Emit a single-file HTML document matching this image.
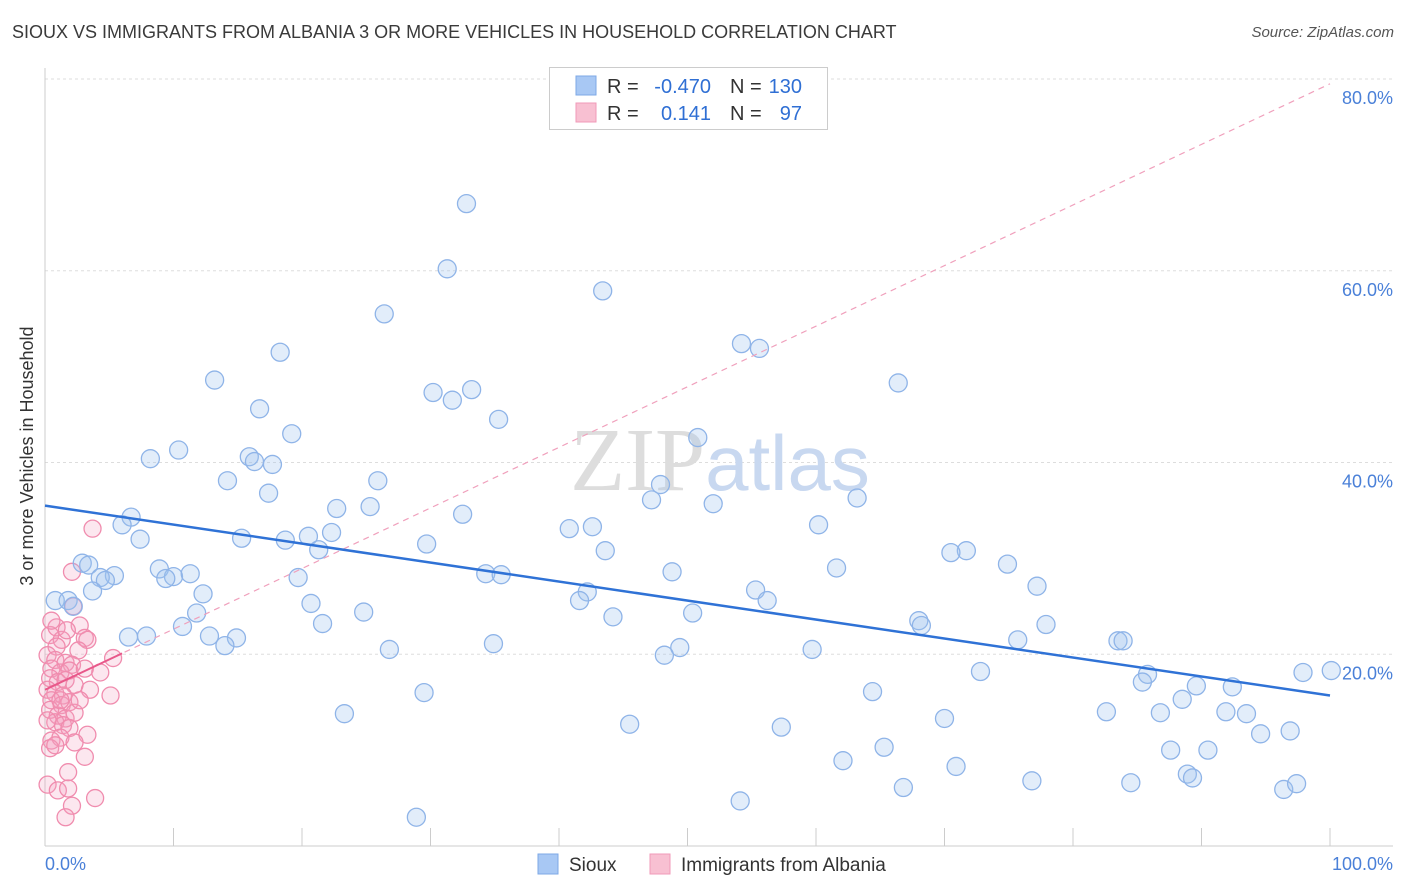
<!DOCTYPE html>
<html><head><meta charset="utf-8">
<style>
body{margin:0;background:#fff;font-family:"Liberation Sans",sans-serif;}
#wrap{position:relative;width:1406px;height:892px;overflow:hidden;}
.title{position:absolute;left:12px;top:22px;font-size:18px;color:#3a3a3a;}
.source{position:absolute;right:12px;top:24px;font-size:15px;color:#555;font-style:italic;}
</style></head>
<body>
<div id="wrap">
<div class="title">SIOUX VS IMMIGRANTS FROM ALBANIA 3 OR MORE VEHICLES IN HOUSEHOLD CORRELATION CHART</div>
<div class="source">Source: ZipAtlas.com</div>
<svg id="chart" width="1406" height="892" style="position:absolute;left:0;top:0"></svg>
</div>
<script>
const yTicks=[20,40,60,80];
const yTickLabels=["20.0%","40.0%","60.0%","80.0%"];
const xTickLabels=["0.0%","100.0%"];
const siouxX=[32.8,31.3,43.4,26.4,18.3,54.2,55.6,66.4,13.2,30.2,33.2,31.7,16.7,35.3,19.2,50.8,10.4,8.2,15.9,16.3,17.7,14.2,25.9,17.4,47.9,47.2,63.2,52.0,22.7,25.3,32.5,6.7,6.0,40.8,42.6,60.2,22.3,15.3,18.7,20.5,21.3,7.4,29.7,43.6,71.7,70.5,2.9,3.4,74.9,61.6,8.9,10.0,11.3,5.4,4.3,4.7,9.4,19.7,34.3,35.5,48.8,77.2,3.7,0.8,1.8,2.2,12.3,55.3,42.2,41.6,56.2,20.7,11.8,24.8,44.2,50.4,68.0,68.2,10.7,21.6,77.9,6.5,7.9,12.8,14.9,14.0,34.9,75.7,83.5,83.9,49.4,48.2,59.7,26.8,100.1,97.9,72.8,85.8,85.4,89.6,92.4,88.5,64.4,29.5,82.6,86.8,91.9,93.5,70.0,23.3,45.5,57.3,94.6,96.9,65.3,87.6,90.5,62.1,70.9,88.9,89.3,76.8,84.5,66.8,96.4,97.4,54.1,28.9];
const siouxY=[67.0,60.2,57.9,55.5,51.5,52.4,51.9,48.3,48.6,47.3,47.6,46.5,45.6,44.5,43.0,42.6,41.3,40.4,40.6,40.1,39.8,38.1,38.1,36.8,37.7,36.1,36.3,35.7,35.2,35.4,34.6,34.3,33.5,33.1,33.3,33.5,32.7,32.1,31.9,32.3,30.9,32.0,31.5,30.8,30.8,30.6,29.5,29.3,29.4,29.0,28.9,28.1,28.4,28.2,28.0,27.7,27.9,28.0,28.4,28.3,28.6,27.1,26.6,25.6,25.6,25.0,26.3,26.7,26.5,25.6,25.6,25.3,24.3,24.4,23.9,24.3,23.5,23.0,22.9,23.2,23.1,21.8,21.9,21.9,21.7,20.9,21.1,21.5,21.4,21.4,20.7,19.9,20.5,20.5,18.3,18.1,18.2,17.9,17.1,16.7,16.6,15.3,16.1,16.0,14.0,13.9,14.0,13.8,13.3,13.8,12.7,12.4,11.7,12.0,10.3,10.0,10.0,8.9,8.3,7.5,7.1,6.8,6.6,6.1,5.9,6.5,4.7,3.0];
const albX=[3.7,2.1,2.2,2.7,0.4,1.3,3.1,3.3,0.9,2.6,0.2,0.8,1.6,2.1,0.5,1.2,1.9,3.1,5.3,4.3,0.4,1.0,1.6,2.3,0.2,0.8,1.4,3.5,5.1,0.5,1.3,1.9,0.4,1.0,1.6,2.3,0.8,1.4,1.9,3.3,0.5,1.2,2.3,0.4,0.8,1.8,0.2,1.0,1.8,3.9,2.1,1.6,0.9,1.7,0.5,1.2,2.7,0.2,3.1];
const albY=[33.1,28.6,25.0,23.0,22.0,21.5,21.7,21.5,20.8,20.4,19.9,19.4,19.1,18.9,18.5,18.1,18.3,18.5,19.6,18.1,17.5,17.1,17.3,16.8,16.3,15.9,15.7,16.3,15.7,15.2,14.7,15.0,14.2,13.6,13.3,13.9,12.9,12.6,12.3,11.6,11.0,11.3,10.8,10.2,10.5,7.7,6.4,5.8,6.0,5.0,4.2,3.0,22.8,22.5,23.5,15.2,15.2,13.1,9.3];
const siouxTrend=[35.5,15.7];   // y at x=0, x=100
const albTrend=[16.3,79.5];
const albSolidEnd=6;

const X0=45,X1=1330,Y0=846,Y80=79;
const sx=v=>X0+(X1-X0)*v/100;
const sy=v=>Y0-(Y0-Y80)*v/80;
const svg=document.getElementById('chart');
const NS='http://www.w3.org/2000/svg';
function mk(t,a){const e=document.createElementNS(NS,t);for(const k in a)e.setAttribute(k,a[k]);svg.appendChild(e);return e;}

// gridlines + labels
yTicks.forEach((t,i)=>{
 const g=mk('line',{x1:X0,x2:1393,y1:sy(t),y2:sy(t),stroke:'#ddd','stroke-dasharray':'3,3'});
 
 
 const l=mk('text',{x:1393,y:sy(t)+25,'text-anchor':'end','font-size':18,fill:'#4a80d8'});
 l.textContent=yTickLabels[i];
 
 
});
// axes
let ax=mk('line',{x1:X0,x2:1393,y1:Y0,y2:Y0,stroke:'#ccc'});


let ay=mk('line',{x1:X0,x2:X0,y1:68,y2:Y0,stroke:'#ccc'});


for(let i=0;i<=10;i++){
 const t=mk('line',{x1:sx(i*10),x2:sx(i*10),y1:828,y2:Y0,stroke:'#ccc'});
 
 
}
[[0,'start',45],[100,'end',1393]].forEach((p,i)=>{
 const l=mk('text',{x:p[2],y:870,'text-anchor':p[1],'font-size':18,fill:'#4a80d8'});
 l.textContent=xTickLabels[i];
 
 
});
// y title
let yt=mk('text',{x:33,y:456,'text-anchor':'middle','font-size':18,fill:'#333',transform:'rotate(-90 33 456)'});
yt.textContent='3 or more Vehicles in Household';


// watermark
let wm=mk('text',{x:720,y:490,'text-anchor':'middle','font-size':90,fill:'#ddd','font-family':'Liberation Serif, serif'});
wm.innerHTML='ZIP<tspan fill="#c8d8f0" font-family="Liberation Sans, sans-serif" font-size="78">atlas</tspan>';



// points
albX.forEach((x,i)=>{
 const c=mk('circle',{cx:sx(x),cy:sy(albY[i]),r:8.5,fill:'rgba(244,160,190,0.25)',stroke:'#f08cae','stroke-width':1.3});
 
 
});
siouxX.forEach((x,i)=>{
 const c=mk('circle',{cx:sx(x),cy:sy(siouxY[i]),r:9,fill:'rgba(160,195,240,0.3)',stroke:'#8fb4e8','stroke-width':1.3});
 
 
});
// trend lines
let pd=mk('line',{x1:sx(0),y1:sy(albTrend[0]),x2:sx(100),y2:sy(albTrend[1]),stroke:'#f0a0bc','stroke-width':1.2,'stroke-dasharray':'6,5'});


let ps=mk('line',{x1:sx(0),y1:sy(albTrend[0]),x2:sx(albSolidEnd),y2:sy(albTrend[0]+(albTrend[1]-albTrend[0])*albSolidEnd/100),stroke:'#e8588a','stroke-width':2});


let bl=mk('line',{x1:sx(0),y1:sy(siouxTrend[0]),x2:sx(100),y2:sy(siouxTrend[1]),stroke:'#2f72d6','stroke-width':2.5});



// top legend
let lb=mk('rect',{x:549.5,y:67.5,width:278,height:62,fill:'#fff',stroke:'#ccc'});


[[76,'#a8c8f4','#7ea8e6','-0.470','130'],[103,'#f8c0d2','#f09ab8','0.141','97']].forEach(r=>{
 const s=mk('rect',{x:576,y:r[0],width:20,height:19,fill:r[1],stroke:r[2]});
 
 
 const t=mk('text',{x:607,y:r[0]+17,'font-size':20,fill:'#333'});
 t.innerHTML='R = <tspan x="711" text-anchor="end" fill="#2f6fd4">'+r[3]+'</tspan><tspan x="730">N = </tspan><tspan x="802" text-anchor="end" fill="#2f6fd4">'+r[4]+'</tspan>';
 
 
});
// bottom legend
[[538,'#a8c8f4','#7ea8e6','Sioux',569],[650,'#f8c0d2','#f09ab8','Immigrants from Albania',681]].forEach(r=>{
 const s=mk('rect',{x:r[0],y:854,width:20,height:20,fill:r[1],stroke:r[2]});
 
 
 const t=mk('text',{x:r[4],y:871,'font-size':19,fill:'#333'});
 t.textContent=r[3];
 
 
});
</script>
</body></html>
